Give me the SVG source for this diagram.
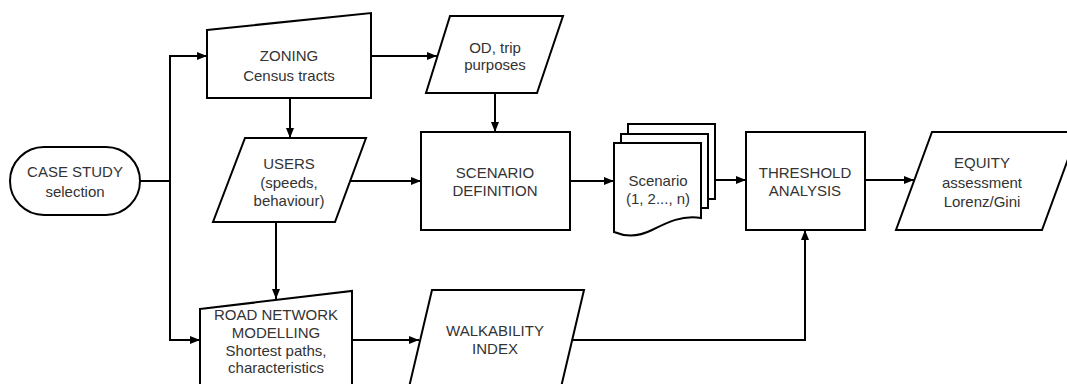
<svg xmlns="http://www.w3.org/2000/svg" width="1067" height="384" viewBox="0 0 1067 384">
<defs>
<marker id="arr" markerUnits="userSpaceOnUse" markerWidth="10" markerHeight="10" viewBox="0 0 10 10" refX="10" refY="5" orient="auto">
<path d="M0,1 L10,5 L0,9 Z" fill="#000"/>
</marker>
<style>
.s{fill:#fff;stroke:#000;stroke-width:2;stroke-linejoin:miter}
.c{fill:none;stroke:#000;stroke-width:2}
.a{marker-end:url(#arr)}
text{font-family:"Liberation Sans",Arial,sans-serif;font-size:15px;fill:#333;text-anchor:middle;dominant-baseline:central}
</style>
</defs>
<rect width="1067" height="384" fill="#fff"/>
<g id="connectors">
<path class="c a" d="M140,181 H170 V56 H207"/>
<path class="c a" d="M170,181 V340 H200"/>
<path class="c a" d="M371,56 H437"/>
<path class="c a" d="M290,98 V138"/>
<path class="c a" d="M495,93 V132"/>
<path class="c a" d="M350,181 H421"/>
<path class="c a" d="M276,222 V299"/>
<path class="c a" d="M570,181 H614"/>
<path class="c a" d="M715,180 H746"/>
<path class="c a" d="M865,180 H914"/>
<path class="c a" d="M352,340 H419"/>
<path class="c a" d="M572,340 H805 V230"/>
</g>
<g id="case-study">
<rect class="s" x="10" y="147" width="130" height="68" rx="34"/>
<text x="75" y="171">CASE STUDY</text>
<text x="75" y="191">selection</text>
</g>
<g id="zoning">
<path class="s" d="M207,30 L371,13 V98 H207 Z"/>
<text x="289" y="55">ZONING</text>
<text x="289" y="75">Census tracts</text>
</g>
<g id="od">
<path class="s" d="M450,16 H563 L537,93 H426 Z"/>
<text x="495" y="47">OD, trip</text>
<text x="495" y="64">purposes</text>
</g>
<g id="users">
<path class="s" d="M245,138 H366 L335,222 H213 Z"/>
<text x="289" y="163">USERS</text>
<text x="289" y="182">(speeds,</text>
<text x="289" y="200">behaviour)</text>
</g>
<g id="scenario-definition">
<rect class="s" x="421" y="132" width="149" height="98"/>
<text x="495" y="172">SCENARIO</text>
<text x="495" y="190">DEFINITION</text>
</g>
<g id="scenarios">
<path class="s" d="M628,134 V124 H715 V199 H708"/>
<path class="s" d="M621,143 V134 H708 V208 H701"/>
<path class="s" d="M614,143 H701 V218 C682,215 668,222 652,230 C638,237 626,237 614,232 Z"/>
<text x="658" y="180">Scenario</text>
<text x="658" y="198">(1, 2..., n)</text>
</g>
<g id="threshold">
<rect class="s" x="746" y="132" width="119" height="98"/>
<text x="805" y="172">THRESHOLD</text>
<text x="805" y="190">ANALYSIS</text>
</g>
<g id="equity">
<path class="s" d="M932,132 H1078 L1042,230 H896 Z"/>
<text x="982" y="162">EQUITY</text>
<text x="982" y="182">assessment</text>
<text x="982" y="201">Lorenz/Gini</text>
</g>
<g id="road-network">
<path class="s" d="M200,309 L352,291 V400 H200 Z"/>
<text x="276" y="314">ROAD NETWORK</text>
<text x="276" y="332">MODELLING</text>
<text x="276" y="350">Shortest paths,</text>
<text x="276" y="367">characteristics</text>
</g>
<g id="walkability">
<path class="s" d="M432,290 H584 L558,400 H406 Z"/>
<text x="495" y="330">WALKABILITY</text>
<text x="495" y="348">INDEX</text>
</g>
</svg>
